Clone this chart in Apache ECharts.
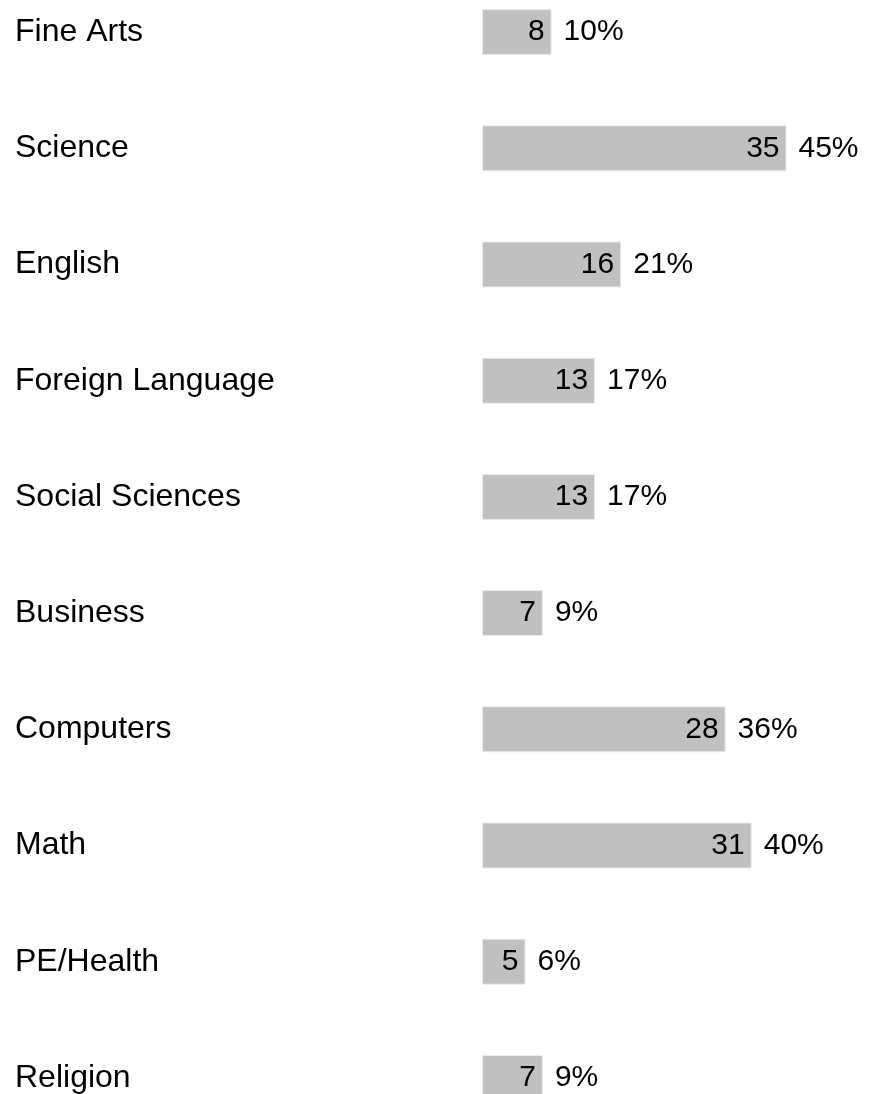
<!DOCTYPE html>
<html><head><meta charset="utf-8">
<script src="https://cdn.jsdelivr.net/npm/echarts@6/dist/echarts.min.js"></script>
<style>html,body{margin:0;padding:0;background:#fff}#c{width:869px;height:1094px}</style>
</head><body><div id="c"></div>
<script>
const categories = ['Fine Arts','Science','English','Foreign Language','Social Sciences','Business','Computers','Math','PE/Health','Religion'];
const counts = [8,35,16,13,13,7,28,31,5,7];
const percents = [10,45,21,17,17,9,36,40,6,9];

const chart = echarts.init(document.getElementById('c'), null, {renderer:'canvas'});
const font = 'Liberation Sans, Arial, sans-serif';
chart.setOption({
  animation:false,
  grid:{left:482, width:348, top:-26, height:1162, containLabel:false, outerBoundsMode:'none'},
  xAxis:{type:'value', min:0, max:40, show:false},
  yAxis:{type:'category', data:categories, inverse:true,
    axisLine:{show:false}, axisTick:{show:false}, splitLine:{show:false},
    axisLabel:{align:'left', margin:467, fontSize:32, color:'#000', fontFamily:font}},
  series:[
    {type:'bar', data:counts, barWidth:46,
      itemStyle:{color:'#c0c0c0', borderColor:'#ececec', borderWidth:1},
      label:{show:true, position:'insideRight', distance:7, fontSize:30, color:'#000', fontFamily:font}},
    {type:'bar', data:counts, barWidth:46, barGap:'-100%',
      itemStyle:{color:'rgba(0,0,0,0)'},
      label:{show:true, position:'right', distance:12, fontSize:30, color:'#000', fontFamily:font,
        formatter:p=>percents[p.dataIndex]+'%'}}
  ]
});
</script></body></html>
